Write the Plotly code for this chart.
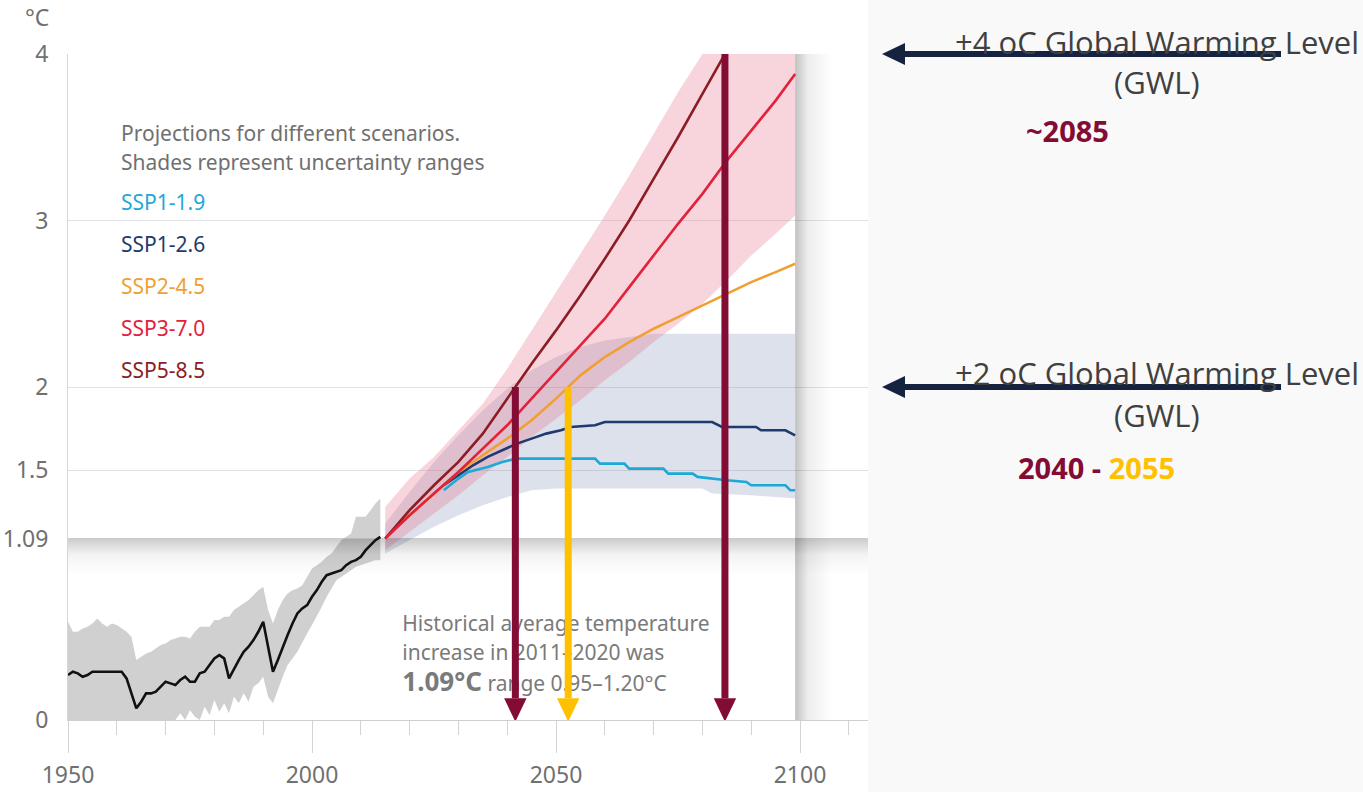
import numpy as np
import plotly.graph_objects as go

# ---------------- data ----------------
# Observed warming 1950-2014 (°C relative to 1850-1900) with its uncertainty range
hist_years = list(range(1950, 2015))
hist_mean = [0.27, 0.29, 0.28, 0.26, 0.27, 0.29, 0.29, 0.29, 0.29, 0.29,
             0.29, 0.29, 0.25, 0.16, 0.07, 0.11, 0.16, 0.16, 0.17, 0.20,
             0.23, 0.22, 0.21, 0.24, 0.26, 0.23, 0.23, 0.28, 0.29, 0.33,
             0.37, 0.39, 0.37, 0.25, 0.31, 0.36, 0.41, 0.44, 0.48, 0.53,
             0.59, 0.45, 0.29, 0.36, 0.44, 0.51, 0.58, 0.64, 0.67, 0.69,
             0.74, 0.78, 0.83, 0.87, 0.88, 0.89, 0.90, 0.93, 0.95, 0.96,
             0.98, 1.02, 1.05, 1.08, 1.10]
hist_hi = [0.59, 0.53, 0.53, 0.55, 0.56, 0.58, 0.61, 0.58, 0.56, 0.58,
           0.57, 0.55, 0.53, 0.50, 0.36, 0.38, 0.40, 0.41, 0.43, 0.45,
           0.46, 0.48, 0.49, 0.50, 0.50, 0.49, 0.53, 0.56, 0.56, 0.56,
           0.60, 0.60, 0.62, 0.62, 0.66, 0.68, 0.70, 0.72, 0.75, 0.78,
           0.80, 0.66, 0.58, 0.66, 0.72, 0.76, 0.78, 0.79, 0.81, 0.86,
           0.91, 0.93, 0.95, 0.98, 1.00, 1.04, 1.08, 1.10, 1.12, 1.22,
           1.22, 1.22, 1.26, 1.30, 1.33]
hist_lo = [0.00, 0.00, 0.00, 0.00, 0.00, 0.00, 0.00, 0.00, 0.00, 0.00,
           0.00, 0.00, 0.00, 0.00, 0.00, 0.00, 0.00, 0.00, 0.00, 0.00,
           0.00, 0.00, 0.00, 0.04, 0.00, 0.06, 0.02, 0.00, 0.08, 0.03,
           0.12, 0.05, 0.10, 0.04, 0.14, 0.10, 0.16, 0.11, 0.20, 0.22,
           0.26, 0.14, 0.10, 0.18, 0.26, 0.33, 0.37, 0.41, 0.46, 0.52,
           0.57, 0.62, 0.68, 0.74, 0.79, 0.84, 0.86, 0.88, 0.90, 0.92,
           0.93, 0.94, 0.95, 0.96, 0.96]

# Scenario projections
proj_years = [2015, 2020, 2025, 2030, 2035, 2040, 2045, 2050, 2055,
              2060, 2065, 2070, 2075, 2080, 2085, 2090, 2095, 2099]
ssp245 = [1.09, 1.23, 1.36, 1.49, 1.59, 1.69, 1.80, 1.93, 2.07,
          2.18, 2.27, 2.35, 2.42, 2.49, 2.56, 2.63, 2.69, 2.74]
ssp370 = [1.09, 1.23, 1.36, 1.49, 1.63, 1.77, 1.93, 2.09, 2.25,
          2.41, 2.60, 2.79, 2.98, 3.16, 3.36, 3.54, 3.72, 3.88]
ssp370_lo = [1.02, 1.13, 1.24, 1.35, 1.47, 1.58, 1.70, 1.81, 1.92,
             2.04, 2.15, 2.27, 2.38, 2.50, 2.64, 2.79, 2.92, 3.03]
ssp370_hi = [1.28, 1.45, 1.58, 1.74, 1.90, 2.11, 2.34, 2.57, 2.80,
             3.03, 3.27, 3.52, 3.77, 4.00, 4.00, 4.00, 4.00, 4.00]

ssp585_years = [2015, 2020, 2025, 2030, 2035, 2040, 2045, 2050,
                2055, 2060, 2065, 2070, 2075, 2080, 2085]
ssp585 = [1.09, 1.26, 1.41, 1.55, 1.72, 1.93, 2.14, 2.34,
          2.55, 2.77, 3.00, 3.25, 3.50, 3.76, 4.02]

ssp126_years = [2027, 2030, 2033, 2036, 2039, 2042, 2045, 2048, 2051,
                2053, 2058, 2060, 2082, 2084, 2091, 2092, 2097, 2099]
ssp126 = [1.41, 1.47, 1.53, 1.58, 1.62, 1.66, 1.69, 1.72, 1.74,
          1.76, 1.77, 1.79, 1.79, 1.76, 1.76, 1.74, 1.74, 1.71]
band126_years = [2015, 2020, 2025, 2030, 2035, 2040, 2045, 2050, 2055,
                 2060, 2065, 2070, 2080, 2082, 2090, 2094, 2099]
ssp126_hi = [1.18, 1.37, 1.55, 1.71, 1.86, 1.99, 2.10, 2.18, 2.24,
             2.28, 2.30, 2.32, 2.32, 2.32, 2.32, 2.32, 2.32]
ssp126_lo = [1.00, 1.08, 1.16, 1.23, 1.29, 1.34, 1.38, 1.39, 1.39,
             1.39, 1.39, 1.39, 1.39, 1.36, 1.35, 1.34, 1.33]

ssp119_years = [2027, 2030, 2032, 2036, 2039, 2042, 2058, 2059, 2064, 2065,
                2072, 2073, 2078, 2079, 2085, 2089, 2090, 2097, 2098, 2099]
ssp119 = [1.38, 1.45, 1.49, 1.52, 1.55, 1.57, 1.57, 1.54, 1.54, 1.51,
          1.51, 1.48, 1.48, 1.46, 1.44, 1.43, 1.41, 1.41, 1.38, 1.38]

scenario_names = ["SSP1-1.9", "SSP1-2.6", "SSP2-4.5", "SSP3-7.0", "SSP5-8.5"]
scenario_colors = ["#1ca9d8", "#1f3a6e", "#f0a033", "#e2213a", "#8c1d25"]

y_tickvals = [0, 1.09, 1.5, 2, 3, 4]
y_ticktext = ["0", "1.09", "1.5", "2", "3", "4"]
x_tickvals = [1950, 2000, 2050, 2100]

recent_mean = 1.09          # 2011-2020 average
gwl_levels = [4, 2]         # global warming levels highlighted on the right

# ---------------- styling ----------------
W, H = 1363, 792
L, R, T, B = 68, 495, 54, 72
X_RANGE = [1950, 2113.93]
CHART_FONT = "Noto Sans"
SIDE_FONT = "Open Sans"
GREY_TXT = "#707070"
MAROON = "#830c35"
GOLD = "#ffc000"
NAVY = "#152240"


def paper_x(px):
    return (px - L) / (W - L - R)


def paper_y(py):
    return (H - B - py) / (H - B - T)


fig = go.Figure()

# historical uncertainty range
fig.add_trace(go.Scatter(
    x=hist_years + hist_years[::-1], y=hist_hi + hist_lo[::-1], mode="lines",
    fill="toself", fillcolor="#d1d0d1", line=dict(width=0),
    hoverinfo="skip", showlegend=False))

# SSP1-2.6 range (blue-grey) and SSP3-7.0 range (pink)
fig.add_trace(go.Scatter(
    x=band126_years + band126_years[::-1], y=ssp126_hi + ssp126_lo[::-1], mode="lines",
    fill="toself", fillcolor="rgba(95,115,160,0.21)", line=dict(width=0),
    hoverinfo="skip", showlegend=False))
fig.add_trace(go.Scatter(
    x=proj_years + proj_years[::-1], y=ssp370_hi + ssp370_lo[::-1], mode="lines",
    fill="toself", fillcolor="rgba(228,100,125,0.27)", line=dict(width=0),
    hoverinfo="skip", showlegend=False))

# shaded strip under the 1.09 level
fig.add_trace(go.Scatter(
    x=[X_RANGE[0], X_RANGE[1], X_RANGE[1], X_RANGE[0]],
    y=[recent_mean, recent_mean, recent_mean - 0.22, recent_mean - 0.22],
    mode="lines", fill="toself", line=dict(width=0),
    fillgradient=dict(type="vertical",
                      colorscale=[[0, "rgba(0,0,0,0)"], [0.55, "rgba(0,0,0,0.045)"],
                                  [1, "rgba(0,0,0,0.20)"]]),
    hoverinfo="skip", showlegend=False))

# shaded strip at the end of the century
x_end = max(proj_years)
fig.add_trace(go.Scatter(
    x=[x_end, x_end + 7.5, x_end + 7.5, x_end],
    y=[0, 0, 4, 4],
    mode="lines", fill="toself", line=dict(width=0),
    fillgradient=dict(type="horizontal",
                      colorscale=[[0, "rgba(0,0,0,0.24)"], [0.35, "rgba(0,0,0,0.07)"],
                                  [1, "rgba(0,0,0,0)"]]),
    hoverinfo="skip", showlegend=False))

# scenario lines
line_sets = [
    (ssp119_years, ssp119, scenario_colors[0]),
    (ssp126_years, ssp126, scenario_colors[1]),
    (proj_years, ssp245, scenario_colors[2]),
    (ssp585_years, ssp585, scenario_colors[4]),
    (proj_years, ssp370, scenario_colors[3]),
]
for xs, ys, col in line_sets:
    fig.add_trace(go.Scatter(x=xs, y=ys, mode="lines",
                             line=dict(color=col, width=2.6),
                             hoverinfo="skip", showlegend=False))

# observed mean
fig.add_trace(go.Scatter(x=hist_years, y=hist_mean, mode="lines",
                         line=dict(color="#111111", width=2.6),
                         hoverinfo="skip", showlegend=False))

# note on the observed warming
note_lines = [
    "Historical average temperature",
    "increase in 2011\u20132020 was",
    "<span style='font-size:26px'><b>1.09\u00b0C</b></span> range 0.95\u20131.20\u00b0C",
]
fig.add_trace(go.Scatter(
    x=[2018.5] * 3, y=[0.565, 0.391, 0.207], mode="text",
    text=note_lines, textposition="middle right",
    textfont=dict(family=CHART_FONT, size=21, color="#7a7a7a"),
    hoverinfo="skip", showlegend=False))

# ---------------- arrows ----------------
shapes = []

# background of the side panel
shapes.append(dict(type="rect", xref="paper", yref="paper",
                   x0=paper_x(868), x1=paper_x(W + 5), y0=paper_y(H + 5), y1=paper_y(-5),
                   fillcolor="#f9f9f9", line=dict(width=0), layer="below"))

# years at which each pathway reaches a warming level
year_585_2 = float(np.interp(2.0, ssp585, ssp585_years))
year_245_2 = float(np.interp(2.0, ssp245, proj_years))
year_585_4 = float(np.interp(4.0, ssp585, ssp585_years))
down_arrows = [(year_585_2, 2.0, MAROON), (year_245_2, 2.0, GOLD), (year_585_4, 4.0, MAROON)]

head_half = 2.3   # years
head_len = 0.13   # °C
for x, top, col in down_arrows:
    shapes.append(dict(type="line", xref="x", yref="y", x0=x, x1=x, y0=top, y1=head_len,
                       line=dict(color=col, width=7), layer="above"))
    shapes.append(dict(type="path", xref="x", yref="y",
                       path=f"M{x - head_half},{head_len} L{x + head_half},{head_len} L{x},-0.01 Z",
                       fillcolor=col, line=dict(width=0), layer="above"))

# left-pointing arrows at the warming levels
tip_px, base_px, tail_px = 882, 905, 1281
half_h = 11 / (H - B - T)
for lvl in gwl_levels:
    yp = lvl / 4
    shapes.append(dict(type="line", xref="paper", yref="paper",
                       x0=paper_x(base_px - 2), x1=paper_x(tail_px), y0=yp, y1=yp,
                       line=dict(color=NAVY, width=6), layer="above"))
    shapes.append(dict(type="path", xref="paper", yref="paper",
                       path=(f"M{paper_x(tip_px)},{yp} L{paper_x(base_px)},{yp + half_h} "
                             f"L{paper_x(base_px)},{yp - half_h} Z"),
                       fillcolor=NAVY, line=dict(width=0), layer="above"))

# ---------------- text ----------------
annotations = []

annotations.append(dict(xref="paper", yref="paper", x=paper_x(51), y=paper_y(17),
                        xanchor="right", yanchor="middle", showarrow=False, text="\u00b0C",
                        font=dict(family=CHART_FONT, size=23, color=GREY_TXT)))

legend_head = ["Projections for different scenarios.", "Shades represent uncertainty ranges"]
for i, line in enumerate(legend_head):
    annotations.append(dict(xref="paper", yref="paper", x=paper_x(119), y=paper_y(133 + 29 * i),
                            xanchor="left", yanchor="middle", showarrow=False, text=line,
                            font=dict(family=CHART_FONT, size=21, color=GREY_TXT)))
for i, (name, col) in enumerate(zip(scenario_names, scenario_colors)):
    annotations.append(dict(xref="paper", yref="paper", x=paper_x(119), y=paper_y(202 + 42 * i),
                            xanchor="left", yanchor="middle", showarrow=False, text=name,
                            font=dict(family=CHART_FONT, size=21, color=col)))

side_font = dict(family=SIDE_FONT, size=31, color="#404040")
for lvl, y_title, y_sub in [(4, 42, 82), (2, 373, 415)]:
    annotations.append(dict(xref="paper", yref="paper", x=paper_x(1157), y=paper_y(y_title),
                            xanchor="center", yanchor="middle", showarrow=False,
                            text=f"+{lvl} oC Global Warming Level", font=side_font))
    annotations.append(dict(xref="paper", yref="paper", x=paper_x(1157), y=paper_y(y_sub),
                            xanchor="center", yanchor="middle", showarrow=False,
                            text="(GWL)", font=side_font))

annotations.append(dict(xref="paper", yref="paper", x=paper_x(1067), y=paper_y(130),
                        xanchor="center", yanchor="middle", showarrow=False,
                        text="<b>~2085</b>",
                        font=dict(family=SIDE_FONT, size=29, color=MAROON)))
annotations.append(dict(xref="paper", yref="paper", x=paper_x(1096), y=paper_y(467),
                        xanchor="center", yanchor="middle", showarrow=False,
                        text=f"<b>2040 - <span style='color:{GOLD}'>2055</span></b>",
                        font=dict(family=SIDE_FONT, size=29, color=MAROON)))

fig.update_layout(
    width=W, height=H,
    margin=dict(l=L, r=R, t=T, b=B, pad=0, autoexpand=False),
    paper_bgcolor="white", plot_bgcolor="white",
    shapes=shapes, annotations=annotations,
    showlegend=False,
    xaxis=dict(range=X_RANGE, tickmode="array", tickvals=x_tickvals, automargin=False,
               ticks="outside", ticklen=32, tickwidth=1, tickcolor="#d4d4d4",
               minor=dict(tickmode="linear", tick0=1950, dtick=10, ticks="outside",
                          ticklen=14, tickwidth=1, tickcolor="#d4d4d4", showgrid=False),
               showgrid=False, zeroline=False, showline=True, linecolor="#d0d0d0", linewidth=1,
               tickfont=dict(family=CHART_FONT, size=23, color=GREY_TXT),
               ticklabelstandoff=2, fixedrange=True),
    yaxis=dict(range=[0, 4], tickmode="array", tickvals=y_tickvals, ticktext=y_ticktext,
               automargin=False,
               ticks="outside", ticklen=14, tickcolor="rgba(0,0,0,0)",
               showgrid=True, gridcolor="#e2e2e2", gridwidth=1,
               zeroline=False, showline=True, linecolor="#d6d6d6", linewidth=1,
               tickfont=dict(family=CHART_FONT, size=23, color=GREY_TXT), fixedrange=True),
)

fig.write_html("out.html")
